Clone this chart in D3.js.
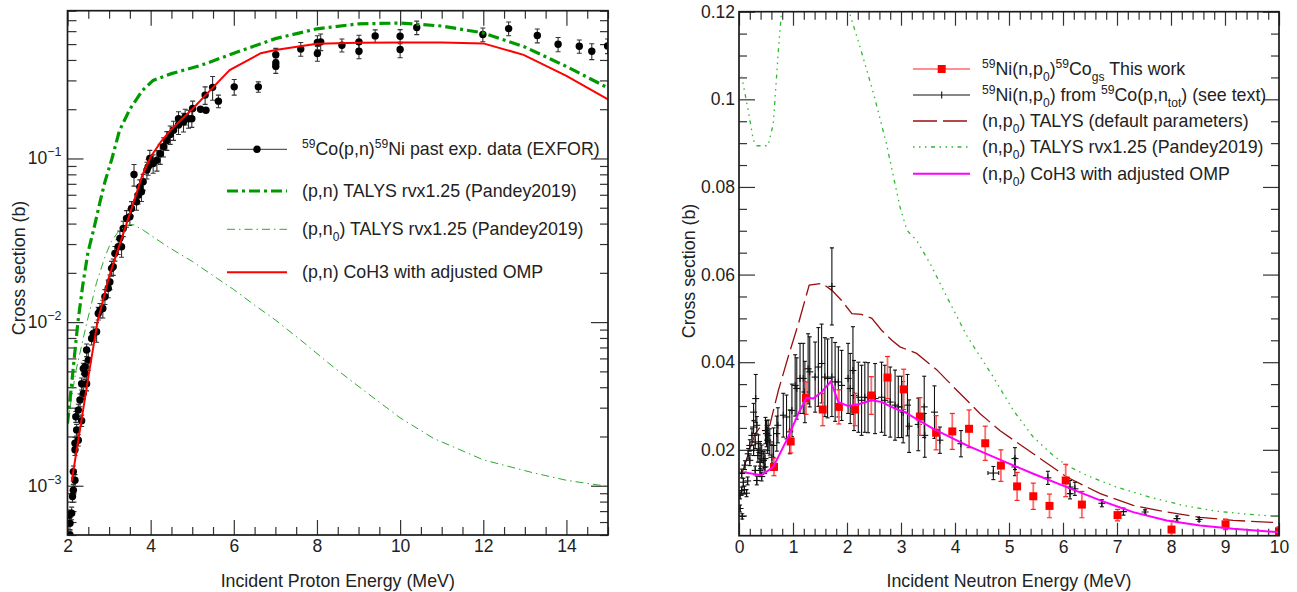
<!DOCTYPE html>
<html>
<head>
<meta charset="utf-8">
<script src="https://cdn.jsdelivr.net/npm/d3@7"></script>
<style>
  body { margin: 0; background: #fff; }
  svg { display: block; }
</style>
</head>
<body>
<svg id="chart" width="1297" height="592"></svg>
<script>
const FONT = '"Liberation Sans", Arial, Helvetica, sans-serif';
const TEXT_SIZE = 17.8;
const TICK_SIZE = 17.5;

// ---------------- Left panel: 59Co(p,n)59Ni ----------------
// [E (MeV), sigma (b), d_sigma (b)]
const exforPN = [
  [2.06,0.00050,0.00003],[2.06,0.00059,0.00005],[2.04,0.00066,0.00005],[2.10,0.00068,0.00006],
  [2.12,0.00086,0.00007],[2.14,0.00094,0.00008],[2.18,0.00108,0.00009],[2.14,0.00122,0.0001],
  [2.18,0.00166,0.00013],[2.18,0.00182,0.00015],[2.26,0.0019,0.00015],[2.22,0.00219,0.00018],
  [2.20,0.00264,0.0002],[2.34,0.0025,0.0002],[2.26,0.0029,0.00025],[2.30,0.00334,0.0003],
  [2.38,0.00367,0.0003],[2.34,0.0042,0.00035],[2.46,0.0042,0.0004],[2.42,0.00486,0.0004],
  [2.38,0.0052,0.0004],[2.42,0.00533,0.0005],[2.46,0.00675,0.0006],[2.50,0.00586,0.0008],
  [2.58,0.00794,0.0007],[2.62,0.00853,0.0008],[2.70,0.00873,0.0012],[2.74,0.0113,0.0010],
  [2.78,0.0118,0.0012],[2.85,0.0121,0.0015],[2.90,0.0143,0.0015],[2.98,0.0161,0.0020],
  [3.02,0.0176,0.0018],[3.06,0.0213,0.0022],[3.10,0.0218,0.0025],[3.14,0.0263,0.0027],
  [3.22,0.0289,0.003],[3.30,0.0289,0.004],[3.26,0.0325,0.0035],[3.34,0.0373,0.004],
  [3.42,0.043,0.005],[3.50,0.044,0.005],[3.54,0.0495,0.005],[3.60,0.0798,0.012],
  [3.66,0.0543,0.006],[3.70,0.0597,0.007],[3.78,0.0626,0.008],[3.74,0.067,0.007],
  [3.82,0.072,0.008],[3.91,0.0849,0.010],[3.94,0.0889,0.010],[3.98,0.100,0.012],
  [4.06,0.0932,0.012],[4.15,0.0977,0.014],[4.23,0.107,0.015],[4.31,0.118,0.016],
  [4.39,0.129,0.017],[4.47,0.140,0.018],[4.55,0.149,0.02],[4.67,0.160,0.02],
  [4.79,0.167,0.022],[4.91,0.175,0.022],[4.67,0.175,0.018],[4.83,0.180,0.02],
  [4.99,0.175,0.02],[5.01,0.202,0.022],[5.20,0.200,0.005],[5.33,0.197,0.005],
  [5.31,0.244,0.03],[5.49,0.272,0.045],[5.63,0.224,0.02],[6.01,0.274,0.03],
  [6.59,0.274,0.02],[7.01,0.431,0.04],[7.01,0.383,0.03],[7.01,0.366,0.035],
  [7.61,0.466,0.045],[8.01,0.512,0.05],[8.01,0.438,0.045],[8.09,0.516,0.06],
  [8.60,0.492,0.045],[9.01,0.516,0.05],[9.01,0.452,0.045],[9.40,0.561,0.05],
  [10.0,0.558,0.055],[10.0,0.463,0.05],[10.40,0.631,0.06],[11.99,0.572,0.055],
  [12.61,0.622,0.06],[13.30,0.564,0.055],[13.80,0.499,0.05],[14.31,0.485,0.045],
  [14.61,0.452,0.05],[14.99,0.487,0.05]
];
const talysPN = [
  [2.0,0.0024],[2.1,0.0042],[2.25,0.010],[2.37,0.017],[2.49,0.0265],[2.62,0.036],
  [2.78,0.054],[2.9,0.072],[3.07,0.10],[3.25,0.148],[3.5,0.20],[3.8,0.26],[4.06,0.30],
  [4.5,0.33],[5.2,0.37],[6.0,0.44],[7.0,0.54],[8.0,0.62],[9.0,0.665],[10.0,0.672],
  [11.0,0.645],[12.0,0.585],[13.0,0.48],[14.0,0.365],[15.0,0.27]
];
const talysPN0 = [
  [2.0,0.0024],[2.2,0.005],[2.46,0.0098],[2.7,0.0175],[2.9,0.025],[3.05,0.031],
  [3.25,0.0365],[3.5,0.0395],[3.6,0.0393],[3.82,0.0365],[4.0,0.034],[4.4,0.029],
  [5.0,0.0235],[5.6,0.0185],[6.0,0.0158],[6.5,0.0127],[7.0,0.0103],[7.6,0.0078],
  [8.4,0.0053],[9.2,0.0037],[10.0,0.0026],[10.8,0.00195],[12.0,0.00144],
  [13.2,0.0012],[14.0,0.00108],[15.0,0.00099]
];
const coh3PN = [
  [2.1,0.00106],[2.3,0.0022],[2.5,0.0046],[2.72,0.0100],[3.0,0.019],[3.2,0.027],
  [3.42,0.040],[3.6,0.055],[3.8,0.079],[4.0,0.102],[4.25,0.127],[4.5,0.151],
  [5.0,0.2],[5.5,0.272],[5.9,0.347],[6.65,0.44],[7.0,0.46],[8.0,0.503],[9.0,0.51],
  [10.0,0.512],[11.0,0.512],[12.0,0.505],[12.97,0.43],[14.0,0.32],[15.0,0.23]
];

// ---------------- Right panel: 59Ni(n,p0)59Co ----------------
// [E (MeV), sigma (b), d_sigma (b)]
const thisWork = [
  [0.648,0.0161,0.002],[0.957,0.0219,0.0026],[1.24,0.0318,0.0037],[1.55,0.0292,0.0037],
  [1.85,0.0298,0.0039],[2.15,0.0292,0.0037],[2.45,0.0324,0.0043],[2.75,0.0365,0.0048],
  [3.05,0.0338,0.0046],[3.35,0.0276,0.0043],[3.65,0.0239,0.0039],[3.95,0.0242,0.0041],
  [4.26,0.0248,0.0043],[4.56,0.0215,0.0039],[4.85,0.0164,0.0036],[5.15,0.01165,0.0032],
  [5.45,0.0094,0.003],[5.75,0.0072,0.0027],[6.05,0.0130,0.0037],[6.35,0.0075,0.003],
  [7.01,0.0051,0.0013],[8.01,0.0018,0.002],[9.01,0.0030,0.0012],[10.0,0.0014,0.001]
];
// [E, sigma, dE, d_sigma]
const fromCoPn = [
  [0.02,0.0066,0.02,0.0008],[0.06,0.0048,0.02,0.0006],[0.02,0.0096,0.02,0.0008],
  [0.05,0.0107,0.02,0.0008],[0.10,0.0109,0.02,0.0008],[0.14,0.0101,0.02,0.0008],
  [0.08,0.0126,0.02,0.0009],[0.16,0.0129,0.02,0.0009],[0.05,0.0146,0.02,0.001],
  [0.11,0.0165,0.02,0.001],[0.20,0.0176,0.02,0.0012],[0.17,0.0191,0.02,0.0012],
  [0.27,0.0199,0.02,0.0012],[0.20,0.0210,0.02,0.0013],[0.30,0.0218,0.02,0.0015],
  [0.24,0.0233,0.02,0.0015],[0.27,0.0252,0.02,0.0015],[0.27,0.0286,0.02,0.002],
  [0.31,0.0317,0.02,0.0055],[0.33,0.0256,0.02,0.002],[0.36,0.0214,0.02,0.002],
  [0.39,0.0199,0.02,0.002],[0.35,0.0187,0.02,0.0015],[0.42,0.0191,0.02,0.002],
  [0.45,0.0176,0.02,0.002],[0.39,0.0172,0.02,0.0015],[0.48,0.0180,0.02,0.002],
  [0.30,0.0153,0.02,0.001],[0.39,0.0153,0.02,0.001],[0.33,0.0130,0.02,0.001],
  [0.42,0.0139,0.02,0.001],[0.48,0.0161,0.02,0.0015],[0.49,0.0244,0.02,0.003],
  [0.51,0.0237,0.02,0.003],[0.54,0.0233,0.02,0.0035],[0.57,0.0218,0.02,0.003],
  [0.53,0.0222,0.02,0.003],[0.61,0.0183,0.02,0.003],[0.64,0.0210,0.02,0.004],
  [0.72,0.0256,0.02,0.004],[0.70,0.0237,0.02,0.004],[0.82,0.0279,0.02,0.005],
  [0.88,0.0275,0.02,0.005],[0.94,0.0241,0.02,0.005],[0.98,0.0290,0.02,0.006],
  [1.04,0.0347,0.02,0.007],[1.07,0.0340,0.02,0.007],[1.13,0.0363,0.02,0.008],
  [1.19,0.0363,0.02,0.008],[1.22,0.0332,0.02,0.007],[1.28,0.0385,0.02,0.008],
  [1.31,0.0378,0.02,0.008],[1.41,0.0366,0.02,0.008],[1.47,0.0389,0.02,0.009],
  [1.53,0.0397,0.02,0.009],[1.59,0.0366,0.02,0.009],[1.64,0.0363,0.02,0.009],
  [1.72,0.0573,0.02,0.0088],[1.72,0.0366,0.02,0.009],[1.78,0.0355,0.02,0.009],
  [1.84,0.0355,0.02,0.008],[1.90,0.0347,0.02,0.008],[2.02,0.0363,0.02,0.008],
  [2.06,0.0340,0.02,0.008],[2.11,0.0381,0.02,0.010],[2.13,0.0324,0.02,0.008],
  [2.21,0.0320,0.02,0.008],[2.27,0.0313,0.02,0.008],[2.33,0.0320,0.02,0.008],
  [2.39,0.0319,0.02,0.008],[2.52,0.0317,0.02,0.008],[2.64,0.0320,0.02,0.008],
  [2.70,0.0313,0.02,0.008],[2.80,0.0309,0.02,0.008],[2.89,0.0302,0.02,0.008],
  [2.95,0.0298,0.02,0.007],[3.01,0.0298,0.02,0.007],[3.04,0.0286,0.02,0.007],
  [3.12,0.0302,0.02,0.007],[3.15,0.0254,0.02,0.006],[3.32,0.0258,0.02,0.006],
  [3.43,0.0298,0.02,0.007],[3.44,0.0233,0.02,0.005],[3.62,0.0286,0.02,0.006],
  [3.72,0.0222,0.04,0.003],[4.11,0.0214,0.02,0.003],[4.71,0.0147,0.1,0.0015],
  [5.11,0.0180,0.02,0.0025],[5.11,0.0161,0.02,0.002],[5.72,0.0136,0.02,0.0015],
  [6.13,0.0115,0.02,0.0015],[6.13,0.0100,0.02,0.0012],[6.22,0.0111,0.02,0.0015],
  [6.72,0.0078,0.02,0.0008],[7.12,0.0059,0.04,0.0008],[7.52,0.0058,0.04,0.0005],
  [8.11,0.0043,0.04,0.0006],[8.52,0.0041,0.04,0.0004]
];
const talysDefaultNP0 = [
  [0.05,0.0145],[0.30,0.0237],[0.42,0.0256],[0.57,0.0256],[0.73,0.0336],[0.91,0.0412],
  [1.10,0.0488],[1.30,0.0576],[1.54,0.0580],[1.72,0.0564],[1.90,0.0541],[2.09,0.0511],
  [2.27,0.0509],[2.46,0.0500],[2.64,0.0473],[2.83,0.0450],[2.98,0.0435],[3.29,0.0420],
  [3.66,0.0383],[4.0,0.0340],[4.22,0.0313],[4.46,0.0283],[4.83,0.0244],[5.45,0.0191],
  [6.07,0.0138],[6.69,0.0100],[7.30,0.0073],[7.92,0.0058],[8.54,0.0046],[9.15,0.0039],
  [10.0,0.00335]
];
const talysRvxNP0 = [
  [0.05,0.1052],[0.17,0.0975],[0.265,0.0907],[0.33,0.0894],[0.54,0.0894],[0.635,0.0945],
  [0.73,0.1113],[0.80,0.122],[0.9,0.135],[1.2,0.15],[1.6,0.15],[1.9,0.13],[2.04,0.12],
  [2.24,0.112],[2.49,0.1014],[2.73,0.0899],[2.98,0.0755],[3.11,0.0701],[3.29,0.0678],
  [3.54,0.0625],[3.85,0.0549],[4.22,0.046],[4.34,0.0437],[4.71,0.0366],[5.08,0.029],
  [5.45,0.0229],[5.82,0.0187],[6.07,0.01645],[6.44,0.01416],[6.99,0.0115],[7.61,0.0092],
  [8.23,0.0073],[8.84,0.006],[9.46,0.00525],[10.0,0.0048]
];
const coh3NP0 = [
  [0.11,0.0148],[0.42,0.0142],[0.635,0.0161],[0.91,0.0229],[1.10,0.0283],[1.25,0.0319],
  [1.376,0.0317],[1.53,0.0332],[1.70,0.0356],[1.84,0.0309],[2.02,0.0300],[2.21,0.0304],
  [2.46,0.0313],[2.64,0.0309],[2.89,0.0294],[3.07,0.0286],[3.60,0.0248],[4.22,0.0210],
  [4.83,0.01775],[5.45,0.01455],[6.07,0.01149],[6.69,0.00845],[7.30,0.00578],
  [7.92,0.00388],[8.54,0.00274],[9.15,0.00199],[10.0,0.00121]
];

// ---------------- Tick values and labels ----------------
const leftXMajor = [2, 4, 6, 8, 10, 12, 14];
const leftYDecades = [1e-3, 1e-2, 1e-1];
const leftYExponents = ["\u22123", "\u22122", "\u22121"];
const rightXMajor = [0, 1, 2, 3, 4, 5, 6, 7, 8, 9, 10];
const rightYMajor = [0.02, 0.04, 0.06, 0.08, 0.1, 0.12];
const rightYLabels = ["0.02", "0.04", "0.06", "0.08", "0.1", "0.12"];

// ---------------- Drawing ----------------
const svg = d3.select("#chart").attr("font-family", FONT);
svg.append("rect").attr("width", 1297).attr("height", 592).attr("fill", "#fff");

const xL = d3.scaleLinear().domain([2, 15]).range([67.5, 608]);
const yL = d3.scaleLog().domain([5e-4, 0.8]).range([535, 10.7]);
const xR = d3.scaleLinear().domain([0, 10]).range([739, 1279]);
const yR = d3.scaleLinear().domain([0.0004, 0.12]).range([535.7, 11.7]);

const defs = svg.append("defs");
function addClip(id, xs, ys) {
  const [a, b] = xs.range(), [c, d] = ys.range();
  defs.append("clipPath").attr("id", id).append("rect")
    .attr("x", a).attr("y", d).attr("width", b - a).attr("height", c - d);
}
addClip("clipL", xL, yL);
addClip("clipR", xR, yR);

// rich text with superscripts (1) and subscripts (-1)
function rich(sel, parts, size) {
  let cur = 0;
  parts.forEach(([s, m]) => {
    const shift = m === 1 ? -7 : m === -1 ? 6 : 0;
    const t = sel.append("tspan").attr("dy", shift - cur).text(s);
    if (m) t.attr("font-size", size * 0.68);
    cur = shift;
  });
}

function styleAxis(g) {
  g.select(".domain").remove();
  g.attr("font-size", TICK_SIZE).attr("font-family", FONT).attr("color", "#333");
  g.selectAll(".tick line").attr("stroke-width", 1.2);
  g.selectAll(".tick text").attr("fill", "#222");
}

function minorVals(lo, hi, step, isMajor) {
  const out = [];
  for (let i = 0; lo + i * step <= hi + 1e-9; i++) {
    const v = +(lo + i * step).toFixed(6);
    if (!isMajor(v)) out.push(v);
  }
  return out;
}

function drawFrame(xs, ys) {
  const [a, b] = xs.range(), [c, d] = ys.range();
  svg.append("rect").attr("x", a).attr("y", d).attr("width", b - a).attr("height", c - d)
    .attr("fill", "none").attr("stroke", "#1a1a1a").attr("stroke-width", 1.7);
}

// ----- Left axes -----
(function () {
  const [x0, x1] = xL.range(), [y1, y0] = yL.range();
  const xMinor = minorVals(2, 15, 0.5, v => v % 2 === 0);
  const yMinor = [];
  [1e-4, 1e-3, 1e-2, 1e-1].forEach(dec => {
    for (let k = 2; k <= 9; k++) {
      const v = k * dec;
      if (v >= 5e-4 - 1e-12 && v <= 0.8 + 1e-12) yMinor.push(v);
    }
  });
  svg.append("g").attr("transform", `translate(0,${y1})`)
    .call(d3.axisBottom(xL).tickValues(leftXMajor).tickSize(-15).tickPadding(5).tickFormat(d3.format("d"))).call(styleAxis);
  svg.append("g").attr("transform", `translate(0,${y1})`)
    .call(d3.axisBottom(xL).tickValues(xMinor).tickSize(-8).tickFormat("")).call(styleAxis);
  svg.append("g").attr("transform", `translate(0,${y0})`)
    .call(d3.axisTop(xL).tickValues(leftXMajor).tickSize(-15).tickFormat("")).call(styleAxis);
  svg.append("g").attr("transform", `translate(0,${y0})`)
    .call(d3.axisTop(xL).tickValues(xMinor).tickSize(-8).tickFormat("")).call(styleAxis);
  svg.append("g").attr("transform", `translate(${x0},0)`)
    .call(d3.axisLeft(yL).tickValues(leftYDecades).tickSize(-16).tickFormat("")).call(styleAxis);
  svg.append("g").attr("transform", `translate(${x0},0)`)
    .call(d3.axisLeft(yL).tickValues(yMinor).tickSize(-9).tickFormat("")).call(styleAxis);
  svg.append("g").attr("transform", `translate(${x1},0)`)
    .call(d3.axisRight(yL).tickValues(leftYDecades).tickSize(-17).tickFormat("")).call(styleAxis);
  svg.append("g").attr("transform", `translate(${x1},0)`)
    .call(d3.axisRight(yL).tickValues(yMinor).tickSize(-8).tickFormat("")).call(styleAxis);
  leftYDecades.forEach((v, i) => {
    const t = svg.append("text").attr("x", x0 - 6).attr("y", yL(v) + 6)
      .attr("text-anchor", "end").attr("font-size", TICK_SIZE).attr("fill", "#222");
    t.append("tspan").text("10");
    t.append("tspan").attr("dy", -8).attr("font-size", 12.5).text(leftYExponents[i]);
  });
  svg.append("text").attr("x", (x0 + x1) / 2).attr("y", 587).attr("text-anchor", "middle")
    .attr("font-size", TEXT_SIZE).attr("fill", "#222").text("Incident Proton Energy (MeV)");
  svg.append("text").attr("transform", "translate(25,268) rotate(-90)").attr("text-anchor", "middle")
    .attr("font-size", TEXT_SIZE).attr("fill", "#222").text("Cross section (b)");
})();

// ----- Right axes -----
(function () {
  const [x0, x1] = xR.range(), [y1, y0] = yR.range();
  const xMinor = minorVals(0, 10, 0.2, v => Math.abs(v - Math.round(v)) < 1e-6);
  const yMinor = minorVals(0.005, 0.12, 0.005, v => Math.abs(v / 0.02 - Math.round(v / 0.02)) < 1e-6);
  svg.append("g").attr("transform", `translate(0,${y1})`)
    .call(d3.axisBottom(xR).tickValues(rightXMajor).tickSize(-13).tickPadding(5).tickFormat(d3.format("d"))).call(styleAxis);
  svg.append("g").attr("transform", `translate(0,${y1})`)
    .call(d3.axisBottom(xR).tickValues(xMinor).tickSize(-7).tickFormat("")).call(styleAxis);
  svg.append("g").attr("transform", `translate(0,${y0})`)
    .call(d3.axisTop(xR).tickValues(rightXMajor).tickSize(-14).tickFormat("")).call(styleAxis);
  svg.append("g").attr("transform", `translate(0,${y0})`)
    .call(d3.axisTop(xR).tickValues(xMinor).tickSize(-8).tickFormat("")).call(styleAxis);
  svg.append("g").attr("transform", `translate(${x0},0)`)
    .call(d3.axisLeft(yR).tickValues(rightYMajor).tickSize(-16).tickPadding(4)
      .tickFormat((d, i) => rightYLabels[i])).call(styleAxis);
  svg.append("g").attr("transform", `translate(${x0},0)`)
    .call(d3.axisLeft(yR).tickValues(yMinor).tickSize(-8).tickFormat("")).call(styleAxis);
  svg.append("g").attr("transform", `translate(${x1},0)`)
    .call(d3.axisRight(yR).tickValues(rightYMajor).tickSize(-16).tickFormat("")).call(styleAxis);
  svg.append("g").attr("transform", `translate(${x1},0)`)
    .call(d3.axisRight(yR).tickValues(yMinor).tickSize(-8).tickFormat("")).call(styleAxis);
  svg.append("text").attr("x", (x0 + x1) / 2).attr("y", 587).attr("text-anchor", "middle")
    .attr("font-size", TEXT_SIZE).attr("fill", "#222").text("Incident Neutron Energy (MeV)");
  svg.append("text").attr("transform", "translate(695,271) rotate(-90)").attr("text-anchor", "middle")
    .attr("font-size", TEXT_SIZE).attr("fill", "#222").text("Cross section (b)");
})();

// ----- Left plot contents -----
const gL = svg.append("g").attr("clip-path", "url(#clipL)");
const bars = gL.append("g").attr("stroke", "#333").attr("stroke-width", 1.1);
exforPN.forEach(([e, s, ds]) => {
  const x = xL(e), ya = yL(s + ds), yb = yL(Math.max(s - ds, 1e-6));
  bars.append("line").attr("x1", x).attr("x2", x).attr("y1", ya).attr("y2", yb);
  bars.append("line").attr("x1", x - 2.5).attr("x2", x + 2.5).attr("y1", ya).attr("y2", ya);
  bars.append("line").attr("x1", x - 2.5).attr("x2", x + 2.5).attr("y1", yb).attr("y2", yb);
});
gL.append("g").selectAll("circle").data(exforPN).join("circle")
  .attr("cx", d => xL(d[0])).attr("cy", d => yL(d[1])).attr("r", 3.7).attr("fill", "#000");

const lineL = d3.line().x(d => xL(d[0])).y(d => yL(d[1]));
gL.append("path").attr("d", lineL(talysPN0)).attr("fill", "none")
  .attr("stroke", "#2fa82f").attr("stroke-width", 1).attr("stroke-dasharray", "8,4,1.5,4");
gL.append("path").attr("d", lineL(talysPN)).attr("fill", "none")
  .attr("stroke", "#009900").attr("stroke-width", 3.2).attr("stroke-dasharray", "11,4,3,4");
gL.append("path").attr("d", lineL(coh3PN)).attr("fill", "none")
  .attr("stroke", "#ff0000").attr("stroke-width", 2);

// ----- Right plot contents -----
const gR = svg.append("g").attr("clip-path", "url(#clipR)");
const lineR = d3.line().x(d => xR(d[0])).y(d => yR(d[1]));
gR.append("path").attr("d", lineR(talysRvxNP0)).attr("fill", "none")
  .attr("stroke", "#2db82d").attr("stroke-width", 1.3)
  .attr("stroke-dasharray", "1.5,4.5,1.5,4.5,1.5,4.5,4,4.5");
gR.append("path").attr("d", lineR(talysDefaultNP0)).attr("fill", "none")
  .attr("stroke", "#990f0f").attr("stroke-width", 1.3).attr("stroke-dasharray", "22,6");

const cr = gR.append("g").attr("stroke", "#111").attr("stroke-width", 1.1);
fromCoPn.forEach(([e, s, de, ds]) => {
  const x = xR(e), y = yR(s), ya = yR(s + ds), yb = yR(s - ds);
  const xa = xR(e - de);
  const hx = Math.max(3.5, x - xa);
  cr.append("line").attr("x1", x).attr("x2", x).attr("y1", ya).attr("y2", yb);
  cr.append("line").attr("x1", x - 2).attr("x2", x + 2).attr("y1", ya).attr("y2", ya);
  cr.append("line").attr("x1", x - 2).attr("x2", x + 2).attr("y1", yb).attr("y2", yb);
  cr.append("line").attr("x1", x - hx).attr("x2", x + hx).attr("y1", y).attr("y2", y);
  cr.append("line").attr("x1", x).attr("x2", x).attr("y1", y - 3.5).attr("y2", y + 3.5);
  if (x - xa > 3.5) {
    cr.append("line").attr("x1", x - hx).attr("x2", x - hx).attr("y1", y - 2).attr("y2", y + 2);
    cr.append("line").attr("x1", x + hx).attr("x2", x + hx).attr("y1", y - 2).attr("y2", y + 2);
  }
});

const rb = gR.append("g");
thisWork.forEach(([e, s, ds]) => {
  const x = xR(e), ya = yR(s + ds), yb = yR(s - ds);
  rb.append("line").attr("x1", x).attr("x2", x).attr("y1", ya).attr("y2", yb)
    .attr("stroke", "#ff6b6b").attr("stroke-width", 1.8);
  [ya, yb].forEach(yy => rb.append("line").attr("x1", x - 2.5).attr("x2", x + 2.5)
    .attr("y1", yy).attr("y2", yy).attr("stroke", "#ff2020").attr("stroke-width", 1.2));
});
gR.append("g").selectAll("rect").data(thisWork).join("rect")
  .attr("x", d => xR(d[0]) - 4).attr("y", d => yR(d[1]) - 4)
  .attr("width", 8).attr("height", 8).attr("fill", "#ff0000");

gR.append("path").attr("d", lineR(coh3NP0)).attr("fill", "none")
  .attr("stroke", "#ff00ff").attr("stroke-width", 2);

drawFrame(xL, yL);
drawFrame(xR, yR);

// ----- Legends -----
const legL = svg.append("g").attr("font-size", TEXT_SIZE).attr("fill", "#222");
const lx0 = 227, lx1 = 287, ltx = 302;
const leftLegend = [
  { y: 149.3, parts: [["59", 1], ["Co(p,n)", 0], ["59", 1], ["Ni past exp. data (EXFOR)", 0]], stroke: "#333", w: 1, dash: null, marker: "circle" },
  { y: 191, parts: [["(p,n) TALYS rvx1.25 (Pandey2019)", 0]], stroke: "#009900", w: 3.2, dash: "11,4,3,4" },
  { y: 229.3, parts: [["(p,n", 0], ["0", -1], [") TALYS rvx1.25 (Pandey2019)", 0]], stroke: "#2fa82f", w: 1, dash: "8,4,1.5,4" },
  { y: 272.3, parts: [["(p,n) CoH3 with adjusted OMP", 0]], stroke: "#ff0000", w: 2, dash: null }
];
leftLegend.forEach(d => {
  const l = legL.append("line").attr("x1", lx0).attr("x2", lx1).attr("y1", d.y).attr("y2", d.y)
    .attr("stroke", d.stroke).attr("stroke-width", d.w);
  if (d.dash) l.attr("stroke-dasharray", d.dash);
  if (d.marker === "circle") legL.append("circle").attr("cx", (lx0 + lx1) / 2).attr("cy", d.y).attr("r", 3.7).attr("fill", "#000");
  rich(legL.append("text").attr("x", ltx).attr("y", d.y + 6), d.parts, TEXT_SIZE);
});

const legR = svg.append("g").attr("font-size", TEXT_SIZE).attr("fill", "#222");
const rx0 = 913, rx1 = 970, rtx = 982;
const rightLegend = [
  { y: 69, parts: [["59", 1], ["Ni(n,p", 0], ["0", -1], [")", 0], ["59", 1], ["Co", 0], ["gs", -1], [" This work", 0]], stroke: "#ff6a6a", w: 1.6, dash: null, marker: "square" },
  { y: 95, parts: [["59", 1], ["Ni(n,p", 0], ["0", -1], [") from ", 0], ["59", 1], ["Co(p,n", 0], ["tot", -1], [") (see text)", 0]], stroke: "#111", w: 1.1, dash: null, marker: "plus" },
  { y: 121, parts: [["(n,p", 0], ["0", -1], [") TALYS (default parameters)", 0]], stroke: "#990f0f", w: 1.3, dash: "24,6" },
  { y: 147, parts: [["(n,p", 0], ["0", -1], [") TALYS rvx1.25 (Pandey2019)", 0]], stroke: "#2db82d", w: 1.3, dash: "1.5,4.5,1.5,4.5,1.5,4.5,4,4.5" },
  { y: 173.7, parts: [["(n,p", 0], ["0", -1], [") CoH3 with adjusted OMP", 0]], stroke: "#ff00ff", w: 2, dash: null }
];
rightLegend.forEach(d => {
  const l = legR.append("line").attr("x1", rx0).attr("x2", rx1).attr("y1", d.y).attr("y2", d.y)
    .attr("stroke", d.stroke).attr("stroke-width", d.w);
  if (d.dash) l.attr("stroke-dasharray", d.dash);
  const cx = 941.7;
  if (d.marker === "square") legR.append("rect").attr("x", cx - 4).attr("y", d.y - 4).attr("width", 8).attr("height", 8).attr("fill", "#ff0000");
  if (d.marker === "plus") legR.append("line").attr("x1", cx).attr("x2", cx).attr("y1", d.y - 3.5).attr("y2", d.y + 3.5).attr("stroke", "#111").attr("stroke-width", 1.1);
  rich(legR.append("text").attr("x", rtx).attr("y", d.y + 6), d.parts, TEXT_SIZE);
});
</script>
</body>
</html>
